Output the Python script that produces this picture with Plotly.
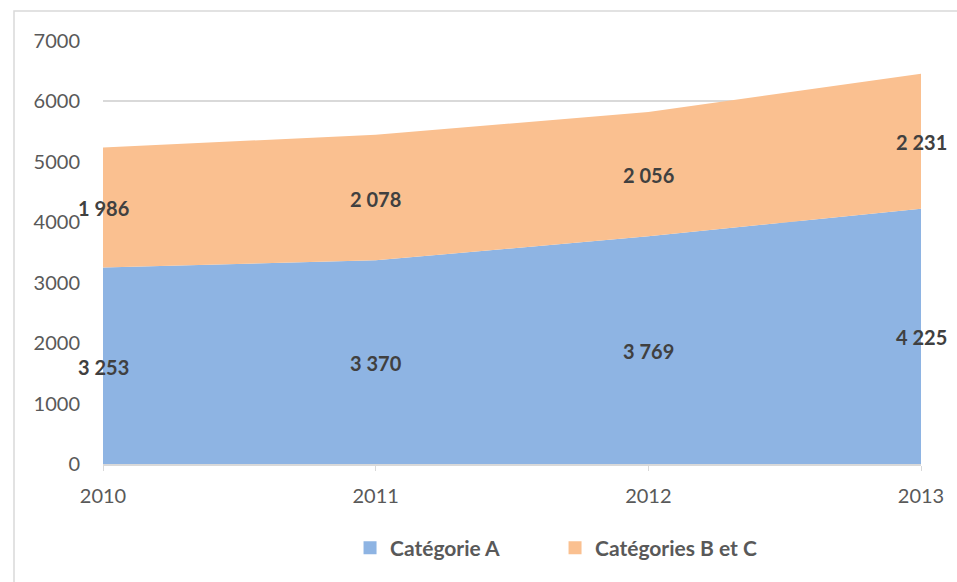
import plotly.graph_objects as go

# Data
years = [2010, 2011, 2012, 2013]
categorie_a = [3253, 3370, 3769, 4225]
categories_bc = [1986, 2078, 2056, 2231]
y_ticks = [0, 1000, 2000, 3000, 4000, 5000, 6000, 7000]
series_names = ["Catégorie A", "Catégories B et C"]

BLUE = "#8EB4E3"
ORANGE = "#FAC090"
FONT = "Lato, 'Open Sans', sans-serif"


def fmt(v):
    return f"{v:,}".replace(",", " ")


fig = go.Figure()

# Stacked areas
for vals, name, col in [(categorie_a, series_names[0], BLUE),
                        (categories_bc, series_names[1], ORANGE)]:
    fig.add_trace(go.Scatter(
        x=years, y=vals, name=name,
        stackgroup="s", mode="none", fillcolor=col,
        hoverinfo="skip", showlegend=False,
    ))

# Legend entries with square swatches
for name, col in [(series_names[0], BLUE), (series_names[1], ORANGE)]:
    fig.add_trace(go.Scatter(
        x=[None], y=[None], name=name, mode="markers",
        marker=dict(symbol="square", size=13, color=col),
        hoverinfo="skip",
    ))

# Value labels centred inside each band
annotations = []
for i, yr in enumerate(years):
    a, b = categorie_a[i], categories_bc[i]
    for yv, val in [(a / 2, a), (a + b / 2, b)]:
        annotations.append(dict(
            x=yr, y=yv, text=fmt(val), showarrow=False,
            xanchor="center", yanchor="middle", yshift=-1,
            font=dict(family=FONT, size=20, color="#404040", weight="bold"),
        ))

fig.update_layout(
    width=957, height=582,
    margin=dict(l=103, r=36, t=41, b=118),
    paper_bgcolor="white", plot_bgcolor="white",
    font=dict(family=FONT, size=20, color="#595959"),
    showlegend=True,
    legend=dict(
        orientation="h", x=0.302, xanchor="left", y=-0.1986, yanchor="middle",
        font=dict(family=FONT, size=21, color="#595959", weight="bold"),
        itemwidth=30, traceorder="normal",
        entrywidth=160, entrywidthmode="pixels",
    ),
    xaxis=dict(
        range=[2010, 2013], tickvals=years, ticktext=[str(y) for y in years],
        showgrid=False, zeroline=False,
        showline=True, linecolor="#D9D9D9", linewidth=1.5,
        ticks="outside", ticklen=5, tickcolor="#D9D9D9",
        ticklabelstandoff=8,
        tickfont=dict(family=FONT, size=20, color="#595959"),
    ),
    yaxis=dict(
        range=[0, 7000], tickvals=y_ticks, ticktext=[str(v) for v in y_ticks],
        showgrid=True, gridcolor="#D9D9D9", gridwidth=1.5,
        zeroline=False, showline=False, ticks="",
        ticklabelstandoff=22,
        tickfont=dict(family=FONT, size=20, color="#595959"),
    ),
    annotations=annotations,
    shapes=[dict(
        type="rect", xref="paper", yref="paper",
        x0=-0.1088, x1=1.06, y0=-0.3, y1=1.071,
        line=dict(color="#D9D9D9", width=1.5), fillcolor="rgba(0,0,0,0)",
        layer="below",
    )],
)

fig.write_html("out.html")
